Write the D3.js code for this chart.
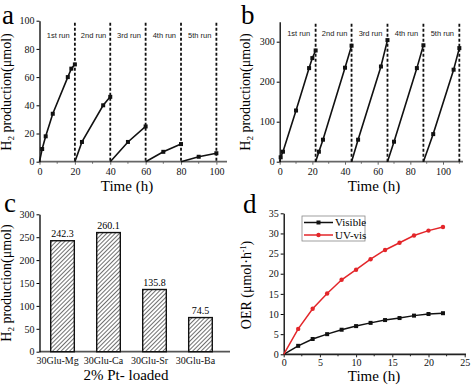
<!DOCTYPE html>
<html lang="en">
  <head>
    <meta charset="utf-8">
    <title>H2 production panels</title>
    <script type="text/javascript" src="https://cdn.jsdelivr.net/npm/d3@7/dist/d3.min.js"></script>
    <style>
      body { margin: 0; background: #fff; }
    </style>
  </head>

  <body>
    <script>
      // panel a: five runs of H2 production (umol) vs time (h)
      var aRuns = [
        [[0, 0], [1.5, 9], [3.5, 18], [7.5, 34], [16, 60], [18, 66], [20, 69]],
        [[20, 0], [24, 14], [36, 40], [40, 46]],
        [[40, 0], [50, 14], [60, 25]],
        [[60, 0], [70, 7], [80, 12.5]],
        [[80, 0], [90, 3.5], [100, 6]]
      ]
      var aBreaks = [20, 40, 60, 80, 100]

      // panel b
      var bRuns = [
        [[0, 0], [0.6, 11], [2, 25], [10, 128], [18, 234], [20, 259], [22, 278]],
        [[22, 0], [24, 25], [26.5, 55], [40, 235], [44, 290]],
        [[44, 0], [48, 55], [62, 238], [66, 304]],
        [[66, 0], [70, 50], [84, 234], [88, 291]],
        [[88, 0], [94, 69], [106.5, 230], [110, 284]]
      ]
      var bBreaks = [22, 44, 66, 88, 110]
      var runLabels = ['1st run', '2nd run', '3rd run', '4th run', '5th run']

      // panel c
      var cCats = ['30Glu-Mg', '30Glu-Ca', '30Glu-Sr', '30Glu-Ba']
      var cVals = [242.3, 260.1, 135.8, 74.5]

      // panel d
      var dTime = [0, 2, 4, 6, 8, 10, 12, 14, 16, 18, 20, 22]
      var dVisible = [0, 2.1, 3.8, 5.0, 6.1, 7.0, 7.8, 8.5, 9.0, 9.6, 10.0, 10.2]
      var dUV = [0, 6.3, 11.3, 15.1, 18.5, 21.0, 23.6, 25.9, 27.7, 29.5, 30.7, 31.6]

      var SERIF = '"Liberation Serif", "DejaVu Serif", serif'
      var SANS = '"Liberation Sans", Arial, sans-serif'

      var svg = d3.select('body').append('svg').attr('width', 474).attr('height', 385)
        .attr('font-family', SERIF)

      var defs = svg.append('defs')
      var pat = defs.append('pattern').attr('id', 'hatch').attr('patternUnits', 'userSpaceOnUse')
        .attr('width', 3).attr('height', 3).attr('patternTransform', 'rotate(45)')
      pat.append('rect').attr('width', 3).attr('height', 3).attr('fill', '#fff')
      pat.append('line').attr('x1', 0).attr('y1', 0).attr('x2', 0).attr('y2', 3)
        .attr('stroke', '#222').attr('stroke-width', 1.3)

      function styleAxis(g) {
        g.attr('font-family', SERIF).attr('font-size', 10)
        g.selectAll('.tick text').attr('fill', '#111')
      }

      function drawAxes(x, y, xTicks, yTicks, xMinor, xLineEnd, xColor, xdy) {
        var g = svg.append('g')
        var y0 = y.range()[0]
        var x0 = x.range()[0]
        var gx = g.append('g').attr('transform', 'translate(0,' + y0 + ')')
          .call(d3.axisBottom(x).tickValues(xTicks).tickSize(3).tickSizeOuter(0))
        styleAxis(gx)
        gx.select('.domain').remove()
        gx.selectAll('.tick line').attr('stroke', xColor)
        gx.selectAll('.tick text').attr('dy', xdy || '0.75em')
        if (xMinor) {
          g.selectAll('.minx').data(xMinor).enter().append('line')
            .attr('x1', function(d) { return x(d) }).attr('x2', function(d) { return x(d) })
            .attr('y1', y0).attr('y2', y0 + 2).attr('stroke', xColor)
        }
        g.append('line').attr('x1', x0).attr('x2', xLineEnd).attr('y1', y0).attr('y2', y0)
          .attr('stroke', xColor).attr('stroke-width', 1.8)
        var gy = g.append('g').attr('transform', 'translate(' + x0 + ',0)')
          .call(d3.axisLeft(y).tickValues(yTicks).tickSize(3).tickSizeOuter(0))
        styleAxis(gy)
        gy.select('.domain').attr('stroke-width', 1.3)
        gy.selectAll('.tick text').attr('dx', '0.1em')
        return g
      }

      function yTitle(cx, cy, parts) {
        var t = svg.append('text').attr('transform', 'translate(' + cx + ',' + cy + ') rotate(-90)')
          .attr('text-anchor', 'middle').attr('font-size', 14).attr('dy', '0.35em')
        parts.forEach(function(p) {
          t.append('tspan').attr('font-size', p.size || 14).attr('dy', p.dy || 0).text(p.t)
        })
        return t
      }

      function xTitle(x, y, s) {
        svg.append('text').attr('x', x).attr('y', y).attr('text-anchor', 'middle')
          .attr('font-size', 15).text(s)
      }

      function letter(x, y, s) {
        svg.append('text').attr('x', x).attr('y', y).attr('font-size', 27).text(s)
      }

      function runsPanel(runs, breaks, xDomain, xr, yDomain, yr, xTicks, yTicks, xMinor, lineEnd, labelY) {
        var x = d3.scaleLinear().domain(xDomain).range(xr)
        var y = d3.scaleLinear().domain(yDomain).range(yr)
        drawAxes(x, y, xTicks, yTicks, xMinor, lineEnd, '#666')
        svg.append('g').selectAll('line').data(breaks).enter().append('line')
          .attr('x1', function(d) { return x(d) }).attr('x2', function(d) { return x(d) })
          .attr('y1', yr[1] + 2).attr('y2', yr[0])
          .attr('stroke', '#111').attr('stroke-width', 1.8).attr('stroke-dasharray', '3,2')
        var line = d3.line().x(function(d) { return x(d[0]) }).y(function(d) { return y(d[1]) })
        runs.forEach(function(r) {
          svg.append('path').datum(r).attr('d', line).attr('fill', 'none')
            .attr('stroke', '#111').attr('stroke-width', 1.6)
          svg.append('g').selectAll('rect').data(r.slice(1)).enter().append('rect')
            .attr('x', function(d) { return x(d[0]) - 2 }).attr('y', function(d) { return y(d[1]) - 2 })
            .attr('width', 4).attr('height', 4).attr('fill', '#111')
        })
        var starts = [xDomain[0]].concat(breaks.slice(0, -1))
        svg.append('g').selectAll('text').data(runLabels).enter().append('text')
          .attr('font-family', SANS).attr('font-size', 7.5).attr('fill', '#222')
          .attr('text-anchor', 'middle')
          .attr('x', function(d, i) { return (x(starts[i]) + x(breaks[i])) / 2 + 1 })
          .attr('y', labelY).text(function(d) { return d })
      }

      var h2Title = [{t: 'H'}, {t: '2', size: 9, dy: 3}, {t: ' production(μmol)', dy: -3}]

      // ---- panel a ----
      runsPanel(aRuns, aBreaks, [0, 106], [39.5, 227], [0, 100], [161.7, 20.7],
        [0, 20, 40, 60, 80, 100], [0, 20, 40, 60, 80, 100], [10, 30, 50, 70, 90], 227, 38)
      letter(2, 24, 'a')
      yTitle(11, 92, h2Title)
      xTitle(127, 191, 'Time (h)')

      // ---- panel b ----
      runsPanel(bRuns, bBreaks, [0, 112], [279.7, 462.6], [0, 350], [161.7, 21.7],
        [0, 20, 40, 60, 80, 100], [0, 100, 200, 300], [10, 30, 50, 70, 90, 110], 463, 36)
      letter(241, 24, 'b')
      yTitle(250, 92, h2Title)
      xTitle(374, 191, 'Time (h)')

      // ---- panel c ----
      var cx = d3.scaleBand().domain(cCats).range([39.5, 223.5]).paddingInner(0.487).paddingOuter(0.244)
      var cy = d3.scaleLinear().domain([0, 300]).range([351.7, 214.3])
      drawAxes(d3.scaleLinear().domain([0, 1]).range([39.5, 230]), cy, [], [0, 50, 100, 150, 200, 250, 300], null, 230, '#555')
      var gcx = svg.append('g').attr('transform', 'translate(0,351.7)')
        .call(d3.axisBottom(cx).tickSize(0))
      styleAxis(gcx)
      gcx.select('.domain').remove()
      gcx.selectAll('.tick text').attr('dx', -5).attr('dy', '0.95em')
      svg.append('g').selectAll('rect').data(cVals).enter().append('rect')
        .attr('x', function(d, i) { return cx(cCats[i]) }).attr('y', function(d) { return cy(d) })
        .attr('width', cx.bandwidth()).attr('height', function(d) { return cy(0) - cy(d) })
        .attr('fill', 'url(#hatch)').attr('stroke', '#111').attr('stroke-width', 1.4)
      svg.append('g').selectAll('text').data(cVals).enter().append('text')
        .attr('x', function(d, i) { return cx(cCats[i]) + cx.bandwidth() / 2 })
        .attr('y', function(d) { return cy(d) - 4 }).attr('text-anchor', 'middle')
        .attr('font-size', 10).text(function(d) { return d.toFixed(1) })
      letter(4, 212, 'c')
      yTitle(11, 283, h2Title)
      xTitle(126, 380, '2% Pt- loaded')

      // ---- panel d ----
      var dx = d3.scaleLinear().domain([0, 25]).range([283.7, 464.7])
      var dy = d3.scaleLinear().domain([0, 35]).range([354.3, 213.3])
      drawAxes(dx, dy, [0, 5, 10, 15, 20, 25], [0, 5, 10, 15, 20, 25, 30, 35], [2.5, 7.5, 12.5, 17.5, 22.5], 466, '#222', '0.55em')
      var dLine = d3.line().x(function(d, i) { return dx(dTime[i]) }).y(function(d) { return dy(d) })
      var series = [
        {name: 'Visible', vals: dVisible, color: '#111'},
        {name: 'UV-vis', vals: dUV, color: '#e3262a'}
      ]
      series.forEach(function(s) {
        svg.append('path').datum(s.vals).attr('d', dLine).attr('fill', 'none')
          .attr('stroke', s.color).attr('stroke-width', 1.5)
        var m = svg.append('g').selectAll('.m').data(s.vals.slice(1)).enter()
        if (s.name === 'Visible') {
          m.append('rect').attr('x', function(d, i) { return dx(dTime[i + 1]) - 2 })
            .attr('y', function(d) { return dy(d) - 2 }).attr('width', 4).attr('height', 4).attr('fill', s.color)
        } else {
          m.append('circle').attr('cx', function(d, i) { return dx(dTime[i + 1]) })
            .attr('cy', function(d) { return dy(d) }).attr('r', 2.2).attr('fill', s.color)
        }
      })
      // legend
      var lg = svg.append('g')
      lg.append('rect').attr('x', 302).attr('y', 216).attr('width', 63).attr('height', 25)
        .attr('fill', '#fff').attr('stroke', '#888').attr('stroke-width', 0.8)
      series.forEach(function(s, i) {
        var ly = 222.5 + i * 12.5
        lg.append('line').attr('x1', 304).attr('x2', 333).attr('y1', ly).attr('y2', ly)
          .attr('stroke', s.color).attr('stroke-width', 1.5)
        if (i === 0) {
          lg.append('rect').attr('x', 316.5).attr('y', ly - 2).attr('width', 4).attr('height', 4).attr('fill', s.color)
        } else {
          lg.append('circle').attr('cx', 318.5).attr('cy', ly).attr('r', 2.2).attr('fill', s.color)
        }
        lg.append('text').attr('x', 335).attr('y', ly + 3.5).attr('font-size', 11).text(s.name)
      })
      letter(243, 213, 'd')
      yTitle(251, 285, [{t: 'OER (μmol·h'}, {t: '-1', size: 8, dy: -5}, {t: ')', dy: 5}])
      xTitle(374, 381, 'Time (h)')
    </script>
  </body>
</html>
